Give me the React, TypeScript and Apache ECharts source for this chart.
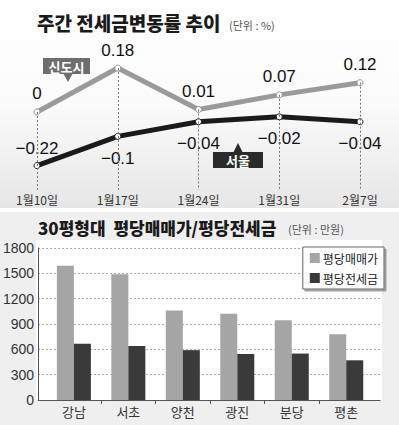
import React, { useEffect, useRef } from "react";
import * as echarts from "echarts";

const weeks = ["1월10일", "1월17일", "1월24일", "1월31일", "2월7일"];
const sindosi = [0, 0.18, 0.01, 0.07, 0.12];
const seoul = [-0.22, -0.1, -0.04, -0.02, -0.04];

const regions = ["강남", "서초", "양천", "광진", "분당", "평촌"];
const salePrice = [1590, 1490, 1060, 1020, 945, 780];
const jeonsePrice = [665, 640, 590, 545, 550, 470];
const barTicks = [0, 300, 600, 900, 1200, 1500, 1800];

const KR = '"Noto Sans CJK KR", "Noto Sans", sans-serif';
const NUM = '"Liberation Sans", Arial, sans-serif';
const NARROW = '"Liberation Sans Narrow", "Liberation Sans", Arial, sans-serif';

export default function App() {
  const ref = useRef<HTMLDivElement>(null);
  useEffect(() => {
    if (!ref.current) return;
    const chart = echarts.init(ref.current, undefined, { renderer: "svg" });
    const yMin = -0.32;
    const option: any = {
      animation: false,
      backgroundColor: "#ffffff",
      graphic: [
        {
          type: "rect",
          shape: { x: 0, y: 0, width: 399, height: 208 },
          style: {
            fill: new echarts.graphic.LinearGradient(0, 0, 0, 1, [
              { offset: 0, color: "#ffffff" },
              { offset: 0.5, color: "#fbfbfb" },
              { offset: 1, color: "#e6e6e6" },
            ]),
          },
          z: -10,
        },
        {
          type: "rect",
          shape: { x: 0, y: 212, width: 399, height: 213 },
          style: { fill: "#efefef" },
          z: -10,
        },
        {
          type: "rect",
          shape: { x: 36, y: 240, width: 346, height: 160 },
          style: { fill: "#ffffff" },
          z: -9,
        },
        {
          type: "text",
          x: 37,
          y: 13,
          style: { text: "주간 전세금변동률 추이", font: `900 19px ${KR}`, fill: "#1a1a1a" },
        },
        {
          type: "text",
          x: 229,
          y: 19,
          style: { text: "(단위 : %)", font: `11px ${KR}`, fill: "#555" },
        },
        {
          type: "text",
          x: 38,
          y: 219,
          style: { text: "30평형대  평당매매가/평당전세금", font: `900 17px ${KR}`, fill: "#1a1a1a" },
        },
        {
          type: "text",
          x: 288,
          y: 223,
          style: { text: "(단위 : 만원)", font: `11px ${KR}`, fill: "#555" },
        },
        // 신도시 callout
        {
          type: "polygon",
          shape: { points: [[63, 73], [73, 73], [68, 82]] },
          style: { fill: "#6e6e6e" },
          z: 20,
        },
        {
          type: "rect",
          shape: { x: 43, y: 58, width: 47, height: 16 },
          style: { fill: "#6e6e6e" },
          z: 20,
        },
        {
          type: "text",
          x: 66.5,
          y: 66,
          style: { text: "신도시", font: `bold 13px ${KR}`, fill: "#fff", align: "center", verticalAlign: "middle" },
          z: 21,
        },
        // 서울 callout
        {
          type: "polygon",
          shape: { points: [[233, 153], [243, 153], [238, 143]] },
          style: { fill: "#2a2a2a" },
          z: 20,
        },
        {
          type: "rect",
          shape: { x: 213, y: 152, width: 50, height: 16 },
          style: { fill: "#2a2a2a" },
          z: 20,
        },
        {
          type: "text",
          x: 238,
          y: 160,
          style: { text: "서울", font: `bold 13px ${KR}`, fill: "#fff", align: "center", verticalAlign: "middle" },
          z: 21,
        },
      ],
      legend: {
        data: ["평당매매가", "평당전세금"],
        orient: "vertical",
        right: 15,
        top: 247,
        itemWidth: 10,
        itemHeight: 10,
        itemGap: 8,
        padding: [5, 6, 5, 7],
        backgroundColor: "#ffffff",
        borderColor: "#666",
        borderWidth: 1,
        shadowColor: "rgba(0,0,0,0.35)",
        shadowOffsetX: 2,
        shadowOffsetY: 2,
        shadowBlur: 1,
        textStyle: { fontFamily: KR, fontSize: 12, color: "#222", padding: [0, 0, 0, -2] },
        icon: "rect",
      },
      grid: [
        { left: 37, right: 39, top: 51, height: 139 },
        { left: 36, right: 19, top: 248, height: 152 },
      ],
      xAxis: [
        {
          type: "category",
          gridIndex: 0,
          data: weeks,
          boundaryGap: false,
          axisLine: { show: false },
          axisTick: { show: false },
          axisLabel: { fontFamily: KR, fontSize: 12, color: "#333", margin: 3 },
        },
        {
          type: "value",
          gridIndex: 1,
          min: -0.656,
          max: 5.62,
          splitLine: { show: false },
          axisLine: { show: true, onZero: false, lineStyle: { color: "#555", width: 1 } },
          axisTick: {
            show: true,
            length: 4,
            inside: false,
            customValues: [0.5, 1.5, 2.5, 3.5, 4.5],
            lineStyle: { color: "#555" },
          },
          axisLabel: {
            customValues: [0, 1, 2, 3, 4, 5],
            formatter: (v: number) => regions[Math.round(v)] ?? "",
            fontFamily: KR,
            fontSize: 13,
            color: "#333",
            margin: 5,
          },
        },
      ],
      yAxis: [
        {
          type: "value",
          gridIndex: 0,
          min: yMin,
          max: 0.25,
          show: false,
          splitLine: { show: false },
        },
        {
          type: "value",
          gridIndex: 1,
          min: 0,
          max: 1800,
          interval: 300,
          axisLine: { show: true, onZero: false, lineStyle: { color: "#555", width: 1 } },
          axisTick: { show: false },
          axisLabel: {
            customValues: barTicks,
            formatter: (v: number) => String(v),
            fontFamily: NARROW,
            fontSize: 14,
            color: "#333",
            margin: 4,
          },
          splitLine: { show: true, lineStyle: { color: "#aaa", type: [2, 2], width: 1 } },
        },
      ],
      series: [
        {
          name: "신도시",
          type: "line",
          xAxisIndex: 0,
          yAxisIndex: 0,
          data: sindosi,
          symbol: "circle",
          symbolSize: 6,
          itemStyle: { color: "#ffffff", borderColor: "#999", borderWidth: 1 },
          lineStyle: { color: "#9a9a9a", width: 5 },
          label: {
            show: true,
            position: "top",
            distance: 6,
            fontFamily: NUM,
            fontSize: 17,
            color: "#111",
          },
          markLine: {
            silent: true,
            symbol: "none",
            label: { show: false },
            lineStyle: { color: "#777", type: [2, 2], width: 1 },
            data: sindosi.map((v, i) => [
              { coord: [i, v] },
              { coord: [i, yMin] },
            ]),
          },
          z: 3,
        },
        {
          name: "서울",
          type: "line",
          xAxisIndex: 0,
          yAxisIndex: 0,
          data: seoul.map((v, i) => ({
            value: v,
            label: i === 0 ? { position: "top", distance: 5 } : { position: "bottom", distance: 10 },
          })),
          symbol: "circle",
          symbolSize: 6,
          itemStyle: { color: "#ffffff", borderColor: "#222", borderWidth: 1 },
          lineStyle: { color: "#1a1a1a", width: 5 },
          label: {
            show: true,
            fontFamily: NUM,
            fontSize: 17,
            color: "#111",
            formatter: (p: any) => String(p.value).replace("-", "−"),
          },
          z: 4,
        },
        {
          name: "평당매매가",
          type: "bar",
          xAxisIndex: 1,
          yAxisIndex: 1,
          data: salePrice.map((v, i) => [i, v]),
          barWidth: 17,
          barGap: "0%",
          itemStyle: { color: "#a5a5a5" },
        },
        {
          name: "평당전세금",
          type: "bar",
          xAxisIndex: 1,
          yAxisIndex: 1,
          data: jeonsePrice.map((v, i) => [i, v]),
          barWidth: 17,
          barGap: "0%",
          itemStyle: { color: "#3a3a3a" },
        },
      ],
    };
    chart.setOption(option);
    return () => chart.dispose();
  }, []);
  return (
    <div
      ref={ref}
      style={{ position: "fixed", left: 0, top: 0, width: 399, height: 425 }}
    />
  );
}
